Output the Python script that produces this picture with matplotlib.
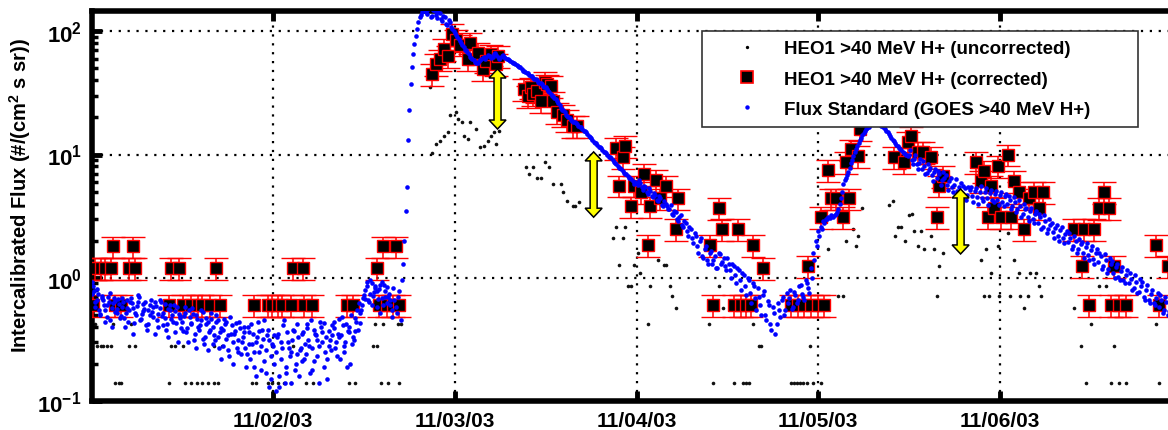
import numpy as np
import matplotlib
matplotlib.use('Agg')
import matplotlib.pyplot as plt
from matplotlib.lines import Line2D
from matplotlib.patches import Polygon
from matplotlib.transforms import IdentityTransform

plt.rcParams['font.family'] = 'Liberation Sans'
plt.rcParams['font.weight'] = 'bold'
plt.rcParams['axes.labelweight'] = 'bold'
plt.rcParams['mathtext.fontset'] = 'custom'
plt.rcParams['mathtext.rm'] = 'Liberation Sans:bold'
plt.rcParams['mathtext.bf'] = 'Liberation Sans:bold'
plt.rcParams['mathtext.it'] = 'Liberation Sans:bold'

# time axis: days since 11/01/03 00:00
tick_days = [1, 2, 3, 4, 5]
tick_labels = ['11/02/03', '11/03/03', '11/04/03', '11/05/03', '11/06/03']

# GOES >40 MeV flux, interleaved 20-min series (72 per day):
# A starts 11/01/03 00:00, B 10 min later, C (quiet day only) 5 min later
goes_step = 1 / 72
goes_flux_a = np.array([
    0.92, 0.78, 0.66, 0.55, 0.71, 0.60, 0.48, 0.63, 0.57, 0.69, 0.52, 0.61,
    0.58, 0.47, 0.66, 0.55, 0.62, 0.43, 0.59, 0.70, 0.51, 0.56, 0.38, 0.60,
    0.53, 0.64, 0.45, 0.57, 0.49, 0.61, 0.42, 0.55, 0.50, 0.36, 0.58, 0.47,
    0.44, 0.52, 0.39, 0.48, 0.57, 0.35, 0.46, 0.41, 0.53, 0.33, 0.44, 0.38,
    0.40, 0.31, 0.45, 0.36, 0.28, 0.42, 0.34, 0.48, 0.30, 0.37, 0.25, 0.39,
    0.33, 0.27, 0.40, 0.22, 0.35, 0.30, 0.44, 0.18, 0.32, 0.26, 0.38, 0.15,
    0.28, 0.12, 0.35, 0.22, 0.41, 0.17, 0.30, 0.25, 0.38, 0.20, 0.33, 0.27,
    0.36, 0.24, 0.31, 0.45, 0.21, 0.34, 0.28, 0.40, 0.19, 0.33, 0.37, 0.26,
    0.39, 0.30, 0.46, 0.34, 0.25, 0.42, 0.36, 0.50, 0.31, 0.44, 0.62, 0.55,
    0.72, 0.85, 0.64, 0.90, 0.76, 0.58, 0.81, 0.69, 0.87, 0.62, 0.74, 0.55,
    0.66, 0.52, 0.78, 0.95, 2.0, 5.5, 23, 51, 79, 105, 130, 142,
    150, 138, 155, 134, 146, 127, 140, 122, 130, 112, 118, 104,
    97, 90, 84, 78, 71, 68, 62, 60, 56, 55, 58, 61,
    60, 64, 63, 62, 66, 62, 61, 64, 61, 59, 57, 55,
    54, 52, 51, 48, 47, 46, 43, 42, 41, 39, 38, 36,
    35, 33, 31, 30, 28, 26, 24, 23, 21, 20, 19.2, 18.5,
    18.0, 17.0, 16.6, 15.6, 15.1, 14.1, 13.5, 12.7, 12.3, 11.5, 11.2, 10.5,
    10.3, 9.6, 9.3, 8.7, 8.4, 7.8, 7.6, 7.1, 7.0, 6.4, 6.3, 5.8,
    5.9, 6.2, 5.4, 5.6, 5.0, 5.3, 4.6, 4.9, 4.3, 4.6, 3.9, 4.2,
    3.8, 3.6, 3.3, 3.5, 3.0, 3.1, 2.7, 2.9, 2.4, 2.6, 2.1, 2.3,
    1.8, 2.0, 1.5, 1.7, 1.4, 1.6, 1.3, 1.5, 1.2, 1.55, 1.35, 1.25,
    1.45, 1.15, 1.3, 1.05, 1.2, 0.95, 1.1, 0.85, 1.0, 0.75, 0.9, 0.68,
    0.82, 0.6, 0.72, 0.5, 0.65, 0.42, 0.58, 0.35, 0.62, 0.48, 0.7, 0.55,
    0.62, 0.8, 0.58, 0.72, 0.66, 0.88, 0.7, 0.95, 0.82, 1.2, 1.6, 2.0,
    2.4, 2.6, 2.9, 3.0, 3.1, 3.2, 3.1, 3.3, 3.6, 4.4, 5.8, 6.5,
    7.2, 8.5, 9.8, 11, 12.5, 13.5, 15, 16, 16.8, 19, 22, 24,
    20, 17, 16.6, 15.6, 14.6, 13.6, 12.8, 12.0, 11.3, 10.8, 10.3, 9.9,
    9.9, 9.0, 9.2, 8.3, 8.6, 7.6, 8.0, 7.1, 7.5, 6.8, 7.2, 6.5,
    6.9, 6.2, 6.4, 5.7, 6.1, 5.4, 5.7, 5.1, 5.5, 4.8, 5.3, 4.7,
    5.2, 4.6, 5.1, 4.5, 5.0, 4.4, 5.0, 4.4, 4.9, 4.3, 4.8, 4.3,
    4.7, 4.1, 4.6, 4.0, 4.3, 3.8, 4.1, 3.6, 3.8, 3.3, 3.6, 3.1,
    3.5, 3.0, 3.3, 2.8, 3.1, 2.6, 2.9, 2.5, 2.7, 2.35, 2.55, 2.2,
    2.45, 2.1, 2.25, 1.95, 2.1, 1.8, 1.98, 1.7, 1.88, 1.6, 1.78, 1.52,
    1.68, 1.42, 1.58, 1.35, 1.5, 1.25, 1.4, 1.18, 1.3, 1.1, 1.22, 1.02,
    1.14, 0.96, 1.06, 0.9, 0.98, 0.83, 0.92, 0.76, 0.86, 0.7, 0.8, 0.66,
    0.74, 0.62, 0.69, 0.58, 0.66, 0.55, 0.64, 0.54,
])
goes_flux_b = np.array([
    0.85, 0.64, 0.74, 0.51, 0.66, 0.55, 0.70, 0.45, 0.62, 0.53, 0.67, 0.49,
    0.63, 0.52, 0.44, 0.68, 0.57, 0.50, 0.64, 0.46, 0.61, 0.41, 0.55, 0.66,
    0.48, 0.59, 0.40, 0.63, 0.52, 0.38, 0.56, 0.46, 0.60, 0.43, 0.51, 0.39,
    0.49, 0.36, 0.55, 0.42, 0.31, 0.50, 0.38, 0.45, 0.29, 0.47, 0.36, 0.52,
    0.34, 0.44, 0.27, 0.39, 0.46, 0.32, 0.23, 0.41, 0.35, 0.27, 0.44, 0.30,
    0.40, 0.24, 0.36, 0.29, 0.19, 0.33, 0.25, 0.38, 0.21, 0.34, 0.13, 0.29,
    0.20, 0.33, 0.16, 0.27, 0.14, 0.36, 0.23, 0.31, 0.18, 0.42, 0.26, 0.21,
    0.29, 0.39, 0.17, 0.27, 0.35, 0.23, 0.44, 0.30, 0.25, 0.15, 0.31, 0.41,
    0.27, 0.35, 0.22, 0.41, 0.30, 0.37, 0.20, 0.33, 0.47, 0.38, 0.52, 0.68,
    0.80, 0.66, 0.95, 0.71, 0.83, 0.67, 0.88, 0.60, 0.78, 0.70, 0.60, 0.82,
    0.58, 0.70, 0.45, 1.3, 3.5, 13, 37, 65, 92, 118, 136, 148,
    143, 152, 130, 148, 136, 142, 125, 133, 115, 124, 108, 100,
    93, 87, 80, 74, 70, 65, 61, 58, 55, 57, 60, 62,
    62, 63, 61, 65, 64, 60, 63, 62, 60, 58, 56, 55,
    53, 51, 49, 48, 46, 44, 43, 41, 40, 38, 37, 35,
    34, 32, 30, 29, 27, 25, 23, 22, 20.5, 19.6, 18.8, 18.2,
    17.6, 16.8, 16.0, 15.4, 14.6, 13.8, 13.1, 12.5, 11.9, 11.4, 10.9, 10.4,
    9.9, 9.5, 9.0, 8.6, 8.1, 7.7, 7.4, 7.0, 6.7, 6.5, 6.1, 6.0,
    5.7, 5.9, 5.2, 5.5, 4.8, 5.1, 4.5, 4.7, 4.2, 4.4, 3.8, 4.0,
    3.6, 3.9, 3.2, 3.4, 2.9, 3.2, 2.6, 2.8, 2.2, 2.5, 1.9, 2.2,
    1.6, 2.1, 1.45, 1.8, 1.3, 1.65, 1.4, 1.2, 1.6, 1.3, 1.45, 1.15,
    1.3, 1.0, 1.25, 0.9, 1.15, 0.8, 1.05, 0.72, 0.95, 0.62, 0.85, 0.55,
    0.7, 0.5, 0.78, 0.45, 0.6, 0.38, 0.52, 0.42, 0.55, 0.66, 0.5, 0.75,
    0.68, 0.56, 0.76, 0.62, 0.85, 0.74, 0.66, 0.9, 0.75, 1.0, 1.4, 1.8,
    2.2, 2.5, 2.8, 3.0, 3.05, 3.15, 3.2, 3.4, 4.0, 5.0, 6.2, 6.8,
    7.8, 9.0, 10.4, 11.8, 13, 14.3, 15.5, 16.4, 17.5, 21, 23, 25,
    18, 16.8, 16.2, 15.2, 14.2, 13.2, 12.4, 11.7, 11.0, 10.5, 10.1, 9.7,
    10.8, 8.4, 9.9, 7.6, 9.2, 8.8, 6.9, 8.3, 7.8, 6.1, 7.6, 7.4,
    5.7, 7.2, 6.8, 5.2, 6.5, 5.0, 6.3, 4.6, 5.9, 5.6, 4.3, 5.5,
    5.4, 4.1, 5.3, 4.0, 5.6, 4.2, 5.3, 3.9, 5.2, 4.1, 5.1, 3.9,
    5.0, 3.8, 4.8, 4.6, 3.6, 4.5, 3.4, 4.3, 3.1, 4.0, 3.7, 2.9,
    3.7, 2.8, 3.5, 3.3, 2.5, 3.2, 2.3, 3.0, 2.8, 2.1, 2.7, 2.0,
    2.6, 1.9, 2.4, 2.3, 1.7, 2.2, 1.6, 2.05, 1.95, 1.45, 1.9, 1.4,
    1.8, 1.3, 1.7, 1.6, 1.18, 1.55, 1.1, 1.45, 1.38, 1.0, 1.3, 0.95,
    1.22, 0.9, 1.15, 1.1, 0.8, 1.05, 0.75, 0.98, 0.92, 0.66, 0.88, 0.62,
    0.8, 0.6, 0.75, 0.72, 0.52, 0.7, 0.5, 0.66,
])
goes_flux_c = np.array([
    0.74, 0.58, 0.81, 0.50, 0.68, 0.44, 0.60, 0.75, 0.40, 0.65, 0.56, 0.47,
    0.69, 0.40, 0.57, 0.63, 0.35, 0.52, 0.72, 0.45, 0.54, 0.64, 0.42, 0.50,
    0.58, 0.35, 0.51, 0.66, 0.41, 0.47, 0.33, 0.60, 0.44, 0.54, 0.30, 0.49,
    0.37, 0.58, 0.30, 0.43, 0.51, 0.27, 0.40, 0.55, 0.32, 0.42, 0.26, 0.46,
    0.29, 0.50, 0.33, 0.22, 0.38, 0.44, 0.26, 0.35, 0.20, 0.43, 0.31, 0.24,
    0.36, 0.19, 0.29, 0.42, 0.25, 0.16, 0.37, 0.28, 0.45, 0.17, 0.31, 0.23,
    0.34, 0.25, 0.13, 0.30, 0.45, 0.19, 0.27, 0.14, 0.37, 0.24, 0.16, 0.35,
    0.22, 0.42, 0.28, 0.18, 0.38, 0.31, 0.14, 0.36, 0.43, 0.22, 0.28, 0.34,
    0.44, 0.23, 0.33, 0.48, 0.28, 0.19, 0.40, 0.29, 0.37, 0.55, 0.43, 0.60,
    0.67, 0.92, 0.74, 0.60, 0.86, 0.78, 0.52, 0.93, 0.70, 0.84, 0.66, 0.48,
])
goes_days = np.concatenate([np.arange(len(goes_flux_a)) * goes_step,
                            (np.arange(len(goes_flux_b)) + 0.5) * goes_step,
                            (np.arange(len(goes_flux_c)) + 0.25) * goes_step])
goes_flux = np.concatenate([goes_flux_a, goes_flux_b, goes_flux_c])

# HEO1 corrected
cor_days = np.array([
    0.006, 0.127, 0.165, 0.424, 0.501, 0.545, 0.584, 0.611, 0.650, 0.705,
    0.892, 0.969, 0.996, 1.024, 1.051, 1.096, 1.167, 1.216, 1.409, 1.442,
    1.580, 1.629, 1.657, 1.690,
    0.022, 0.050, 0.077, 0.105, 0.204, 0.242, 0.435, 0.479, 0.683, 1.107,
    1.162, 1.569,
    0.121, 0.231, 1.607, 1.674,
    1.877, 1.894, 1.921, 1.943, 1.960, 1.987, 2.004, 2.031, 2.070, 2.086,
    2.125, 2.153, 2.169, 2.197, 2.224, 2.235,
    2.378, 2.400, 2.417, 2.433, 2.455, 2.472, 2.499, 2.510, 2.527, 2.543,
    2.565, 2.598, 2.620, 2.648, 2.675,
    2.885, 2.901, 2.923, 2.934, 2.967, 2.984, 3.023, 3.039, 3.061, 3.072,
    3.110, 3.132, 3.165, 3.215, 3.231, 3.402, 3.419, 3.452, 3.468, 3.534,
    3.556, 3.573, 3.600, 3.628, 3.644, 3.694,
    3.848, 3.887, 3.920, 3.958, 3.997, 4.030,
    3.942, 4.013, 4.052, 4.068, 4.096, 4.135, 4.168, 4.151, 4.178, 4.217,
    4.233,
    4.415, 4.470, 4.492, 4.509, 4.547, 4.575, 4.619, 4.652, 4.663, 4.685,
    4.867, 4.894, 4.911, 4.933, 4.949, 4.966, 4.988, 5.004, 5.043, 5.059,
    5.076, 5.103, 5.131, 5.158, 5.186, 5.213, 5.235, 5.406, 5.450, 5.461,
    5.489, 5.516, 5.544, 5.571, 5.599, 5.610, 5.626, 5.654, 5.692, 5.857,
    5.874, 5.924,
])
cor_flux = np.array([
    0.6, 0.6, 0.6, 0.6, 0.6, 0.6, 0.6, 0.6, 0.6, 0.6,
    0.6, 0.6, 0.6, 0.6, 0.6, 0.6, 0.6, 0.6, 0.6, 0.6,
    0.6, 0.6, 0.6, 0.6,
    1.2, 1.2, 1.2, 1.2, 1.2, 1.2, 1.2, 1.2, 1.2, 1.2,
    1.2, 1.2,
    1.8, 1.8, 1.8, 1.8,
    45, 54, 59, 72, 63, 95, 85, 78, 59, 81,
    67, 49, 57, 65, 54, 63,
    34, 30, 35, 31, 33, 27, 39, 37, 36, 27,
    22, 21, 19, 17, 17,
    11.3, 5.6, 9.6, 11.8, 3.8, 5.6, 5.0, 7.0, 1.85, 3.8,
    6.2, 4.4, 5.6, 2.5, 4.4, 1.85, 0.6, 3.7, 2.5, 0.6,
    2.5, 0.6, 0.6, 0.6, 1.85, 1.2,
    0.6, 0.6, 0.6, 0.6, 0.6, 0.6,
    1.25, 3.1, 7.5, 4.4, 4.4, 3.1, 4.4, 8.7, 11, 9.8,
    16,
    9.6, 8.7, 12.7, 14, 10.5, 10.5, 9.6, 3.1, 5.6, 6.7,
    8.7, 6.1, 7.4, 3.1, 5.6, 3.7, 8.1, 3.1, 10, 3.1,
    6.1, 5.0, 2.5, 4.4, 5.0, 3.7, 5.0, 2.5, 1.25, 2.5,
    0.6, 2.5, 3.7, 5.0, 3.7, 0.6, 1.25, 0.6, 0.6, 1.85,
    0.6, 1.25,
])
cor_rel_err = 0.2

# HEO1 uncorrected
unc_days = np.array([
    0.132, 0.149, 0.165, 0.424, 0.517, 0.545, 0.578, 0.606, 0.639, 0.672,
    0.699, 0.886, 0.903, 0.969, 0.996, 1.024, 1.057, 1.096, 1.178, 1.217,
    1.415, 1.453, 1.591, 1.630, 1.690,
    0.033, 0.050, 0.066, 0.083, 0.105, 0.204, 0.242, 0.435, 0.462, 0.506,
    0.677, 0.721, 0.991, 1.107, 1.552, 1.574,
    0.022, 0.121, 0.220, 1.563, 1.607, 1.685, 1.701,
    1.861, 1.877, 1.894, 1.921, 1.938, 1.965, 1.976, 2.004, 2.015, 2.042,
    2.048, 2.070, 2.086, 2.114, 2.141, 2.158, 2.180, 2.197, 2.213, 2.224,
    2.241,
    2.389, 2.406, 2.428, 2.455, 2.472, 2.499, 2.516, 2.543, 2.582, 2.593,
    2.620, 2.648, 2.664, 2.681,
    2.868, 2.885, 2.901, 2.923, 2.934, 2.951, 2.967, 2.984, 3.006, 3.022,
    3.061, 3.072, 3.116, 3.149, 3.165, 3.187, 3.198, 3.215, 3.397, 3.419,
    3.452, 3.474, 3.534, 3.584, 3.600, 3.617, 3.639, 3.672, 3.683,
    3.848, 3.865, 3.881, 3.898, 3.914, 3.936, 3.953, 3.969, 4.013, 4.052,
    4.107, 4.134, 4.151, 4.189, 4.206, 4.222, 4.244,
    4.388, 4.410, 4.421, 4.437, 4.454, 4.476, 4.498, 4.514, 4.525, 4.547,
    4.564, 4.580, 4.619, 4.635, 4.652, 4.663, 4.685,
    4.894, 4.911, 4.922, 4.938, 4.949, 4.988, 4.993, 5.043, 5.054, 5.076,
    5.103, 5.109, 5.131, 5.153, 5.164, 5.197, 5.213, 5.224, 5.406, 5.445,
    5.472, 5.500, 5.544, 5.582, 5.610, 5.626, 5.654, 5.692, 5.857, 5.874,
])
unc_flux = np.array([
    0.14, 0.14, 0.14, 0.14, 0.14, 0.14, 0.14, 0.14, 0.14, 0.14,
    0.14, 0.14, 0.14, 0.14, 0.14, 0.14, 0.14, 0.14, 0.14, 0.14,
    0.14, 0.14, 0.14, 0.14, 0.14,
    0.28, 0.28, 0.28, 0.28, 0.28, 0.28, 0.28, 0.28, 0.28, 0.28,
    0.28, 0.28, 0.28, 0.28, 0.28, 0.28,
    0.42, 0.42, 0.42, 0.42, 0.42, 0.42, 0.42,
    35, 10.3, 12.2, 12.9, 14.2, 15.3, 21, 22, 19.4, 18.4,
    14, 13.4, 18.4, 16.2, 11.5, 11.8, 12.9, 14.2, 15.3, 12.2,
    15.5,
    7.9, 6.9, 7.9, 6.4, 6.4, 8.7, 7.9, 5.8, 5.8, 5.0,
    4.2, 3.8, 3.8, 4.1,
    2.1, 2.6, 1.28, 2.1, 2.6, 0.85, 0.85, 1.28, 1.6, 1.1,
    0.42, 0.85, 1.4, 1.28, 1.28, 0.85, 0.71, 0.57, 0.42, 0.14,
    0.85, 0.57, 0.14, 0.14, 0.14, 0.14, 0.42, 0.28, 0.28,
    0.14, 0.14, 0.14, 0.14, 0.14, 0.14, 0.28, 0.14, 0.14, 1.7,
    0.71, 0.71, 2.0, 2.5, 1.8, 2.2, 3.7,
    3.9, 4.2, 2.2, 2.6, 2.6, 2.0, 3.2, 3.3, 2.4, 1.8,
    2.4, 1.7, 2.2, 1.7, 0.71, 1.25, 1.6,
    1.4, 0.71, 1.7, 0.71, 1.1, 1.8, 0.71, 2.3, 0.71, 1.4,
    1.1, 0.71, 0.57, 0.71, 1.1, 1.1, 0.86, 0.71, 0.57, 0.28,
    0.14, 0.42, 0.86, 0.86, 0.14, 0.28, 0.14, 0.14, 0.42, 0.14,
])

# yellow arrows: time, lower and upper flux
arrow_days = [2.235, 2.764, 4.784]
arrow_lo = [16.1, 3.1, 1.56]
arrow_hi = [49.4, 10.5, 5.25]

labels = ['HEO1 >40 MeV H+ (uncorrected)', 'HEO1 >40 MeV H+ (corrected)',
          'Flux Standard (GOES >40 MeV H+)']

W, H = 1168, 431
fig = plt.figure(figsize=(W / 100, H / 100), dpi=100)
ax = fig.add_axes([91.5 / W, 29 / H, 1090 / W, 390 / H])

ax.plot(unc_days, unc_flux, 'o', color='#111111', ms=2.6, mec='none', zorder=2)
ax.errorbar(cor_days, cor_flux, yerr=cor_rel_err * cor_flux, fmt='s',
            mfc='k', mec='red', mew=1.0, ms=8.5, ecolor='red',
            elinewidth=1.1, capsize=8.5, capthick=1.1, zorder=3)
ax.plot(goes_days, goes_flux, 'o', color='blue', ms=3.3, mec='none', zorder=4)

ax.set_yscale('log')
ax.set_ylim(0.1, 146)
ax.set_xlim(0, 6)
ax.set_xticks(tick_days)
ax.set_xticklabels(tick_labels, fontsize=15)
ax.set_yticks([0.1, 1, 10, 100])
ax.set_yticklabels([r'$10^{-1}$', r'$10^{0}$', r'$10^{1}$', r'$10^{2}$'],
                   fontsize=16)
ax.tick_params(which='major', direction='in', length=7, width=3.5,
               top=True, right=True, pad=7)
ax.tick_params(which='minor', direction='in', length=4.5, width=2.5,
               top=False, right=True)
ax.xaxis.set_minor_locator(plt.NullLocator())
ax.grid(True, which='major', color='k', linestyle=(0, (1, 3)), linewidth=1.6)
ax.set_axisbelow(True)
for s in ax.spines.values():
    s.set_linewidth(4)

ax.set_ylabel('Intercalibrated Flux (#/(cm$^2$ s sr))', fontsize=14.5,
              fontweight='bold')
ax.yaxis.set_label_coords(-0.054, 0.53)

# legend
handles = [
    Line2D([], [], ls='none', marker='o', ms=2.4, color='k', mec='none'),
    Line2D([], [], ls='none', marker='s', ms=8, mfc='k', mec='red', mew=1.2),
    Line2D([], [], ls='none', marker='o', ms=3.2, color='blue', mec='none'),
]
leg = fig.legend(handles, labels, loc='upper left', mode='expand',
                 bbox_to_anchor=(702 / W, 1 - 127 / H, 436 / W, 95 / H),
                 bbox_transform=fig.transFigure, numpoints=1,
                 fontsize=13.5, fancybox=False, framealpha=1,
                 edgecolor='#333333', borderpad=0.5, handlelength=3.8,
                 handletextpad=0.05, labelspacing=0.69, borderaxespad=0)
leg.get_frame().set_linewidth(1.2)

# double-headed arrows, built in pixel space
shaft, head_w, head_l = 7, 17, 9
for d, lo, hi in zip(arrow_days, arrow_lo, arrow_hi):
    x, y0 = ax.transData.transform((d, lo))
    _, y1 = ax.transData.transform((d, hi))
    verts = [
        (x, y0), (x + head_w / 2, y0 + head_l), (x + shaft / 2, y0 + head_l),
        (x + shaft / 2, y1 - head_l), (x + head_w / 2, y1 - head_l), (x, y1),
        (x - head_w / 2, y1 - head_l), (x - shaft / 2, y1 - head_l),
        (x - shaft / 2, y0 + head_l), (x - head_w / 2, y0 + head_l),
    ]
    fig.add_artist(Polygon(verts, closed=True, fc='#ffff00', ec='k',
                           lw=1.1, transform=IdentityTransform(), zorder=3))

fig.savefig('out.png', dpi=100)
